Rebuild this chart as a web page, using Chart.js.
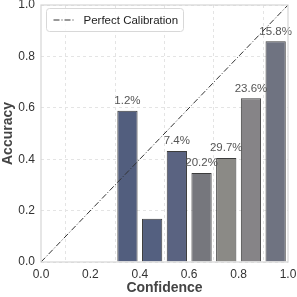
<!DOCTYPE html>
<html>
<head>
<meta charset="utf-8">
<script src="https://cdn.jsdelivr.net/npm/chart.js@4/dist/chart.umd.min.js"></script>
<style>
  html, body { margin: 0; padding: 0; background: #fff; }
  #wrap { width: 297px; height: 297px; }
</style>
</head>
<body>
<div id="wrap"><canvas id="calib"></canvas></div>
<script>
// bin centres (confidence) and observed accuracy per bin
var binCenters = [0.35, 0.45, 0.55, 0.65, 0.75, 0.85, 0.95];
var accuracy   = [0.589, 0.168, 0.432, 0.346, 0.405, 0.637, 0.859];
// share of samples in each bin (null = not labelled)
var sampleShare = ['1.2%', null, '7.4%', '20.2%', '29.7%', '23.6%', '15.8%'];
var diagX = [0, 1];
var diagY = [0, 1];
var axisTicks = [0, 0.2, 0.4, 0.6, 0.8, 1.0];

var barColors = ['#525e7e', '#546080', '#5a6381', '#76777d', '#8b8a86', '#868487', '#6f7381'];
var FONT = "'Liberation Sans', Arial, sans-serif";

var barData = binCenters.map(function(c, i) { return {x: c, y: accuracy[i]}; });
var diagData = diagX.map(function(v, i) { return {x: v, y: diagY[i]}; });

var pctLabels = {
  id: 'pctLabels',
  afterDatasetsDraw: function(chart) {
    var ctx = chart.ctx;
    var meta = chart.getDatasetMeta(0);
    ctx.save();
    ctx.font = '11.5px ' + FONT;
    ctx.fillStyle = '#555555';
    ctx.textAlign = 'center';
    ctx.textBaseline = 'bottom';
    meta.data.forEach(function(bar, i) {
      if (sampleShare[i]) ctx.fillText(sampleShare[i], bar.x, bar.y - 4);
    });
    ctx.restore();
  }
};

var frameAndLegend = {
  id: 'frameAndLegend',
  afterDraw: function(chart) {
    var ctx = chart.ctx, a = chart.chartArea;
    ctx.save();
    ctx.strokeStyle = '#d6d6d6';
    ctx.lineWidth = 1.2;
    ctx.strokeRect(a.left, a.top, a.right - a.left, a.bottom - a.top);

    // legend box
    var bx = a.left + 5.5, by = a.top + 3.5, bw = 137, bh = 23;
    ctx.beginPath();
    ctx.roundRect(bx, by, bw, bh, 3);
    ctx.fillStyle = 'rgba(255,255,255,0.85)';
    ctx.fill();
    ctx.strokeStyle = '#d8d8d8';
    ctx.lineWidth = 1;
    ctx.stroke();

    var ly = by + bh / 2;
    ctx.beginPath();
    ctx.setLineDash([6, 2, 1, 2]);
    ctx.strokeStyle = '#333333';
    ctx.moveTo(bx + 7, ly);
    ctx.lineTo(bx + 27, ly);
    ctx.stroke();
    ctx.setLineDash([]);

    ctx.font = '11.5px ' + FONT;
    ctx.fillStyle = '#222222';
    ctx.textAlign = 'left';
    ctx.textBaseline = 'middle';
    ctx.fillText(chart.data.datasets[1].label, bx + 37, ly + 0.5);
    ctx.restore();
  }
};

var gridOpts = {
  color: '#e4e4e4',
  drawTicks: false,
  lineWidth: 1
};

function noOverhang(s) {
  s.paddingTop = 0; s.paddingRight = 0; s.paddingLeft = 0; s.paddingBottom = 0;
}

new Chart(document.getElementById('calib'), {
  type: 'bar',
  data: {
    datasets: [{
      type: 'bar',
      label: 'Accuracy',
      data: barData,
      backgroundColor: barColors,
      borderColor: '#3c3c3c',
      borderWidth: 1,
      barPercentage: 0.82,
      categoryPercentage: 1.0,
      order: 2
    }, {
      type: 'line',
      label: 'Perfect Calibration',
      data: diagData,
      borderColor: '#333333',
      borderWidth: 1,
      borderDash: [6, 2, 1, 2],
      pointRadius: 0,
      fill: false,
      order: 1
    }]
  },
  options: {
    responsive: true,
    maintainAspectRatio: false,
    animation: false,
    layout: { padding: { top: 5, right: 9, left: 0, bottom: 0 } },
    plugins: {
      legend: { display: false },
      tooltip: { enabled: false }
    },
    scales: {
      x: {
        type: 'linear',
        min: 0, max: 1,
        offset: false,
        afterBuildTicks: function(s) { s.ticks = axisTicks.map(function(v) { return {value: v}; }); },
        afterFit: function(s) { s.height = 35; noOverhang(s); },
        ticks: {
          color: '#333333',
          font: { family: FONT, size: 12 },
          padding: 5,
          maxRotation: 0,
          callback: function(v) { return v.toFixed(1); }
        },
        grid: gridOpts,
        border: { display: false, dash: [3, 3] },
        title: {
          display: true,
          text: 'Confidence',
          color: '#444444',
          font: { family: FONT, size: 14, weight: 'bold' },
          padding: { top: 0, bottom: 0 }
        }
      },
      y: {
        min: 0, max: 1,
        afterBuildTicks: function(s) { s.ticks = axisTicks.map(function(v) { return {value: v}; }); },
        afterFit: function(s) { s.width = 41; noOverhang(s); },
        ticks: {
          color: '#333333',
          font: { family: FONT, size: 12 },
          padding: 6,
          callback: function(v) { return v.toFixed(1); }
        },
        grid: gridOpts,
        border: { display: false, dash: [3, 3] },
        title: {
          display: true,
          text: 'Accuracy',
          color: '#444444',
          font: { family: FONT, size: 14, weight: 'bold' },
          padding: { top: 0, bottom: 1 }
        }
      }
    }
  },
  plugins: [pctLabels, frameAndLegend]
});
</script>
</body>
</html>
